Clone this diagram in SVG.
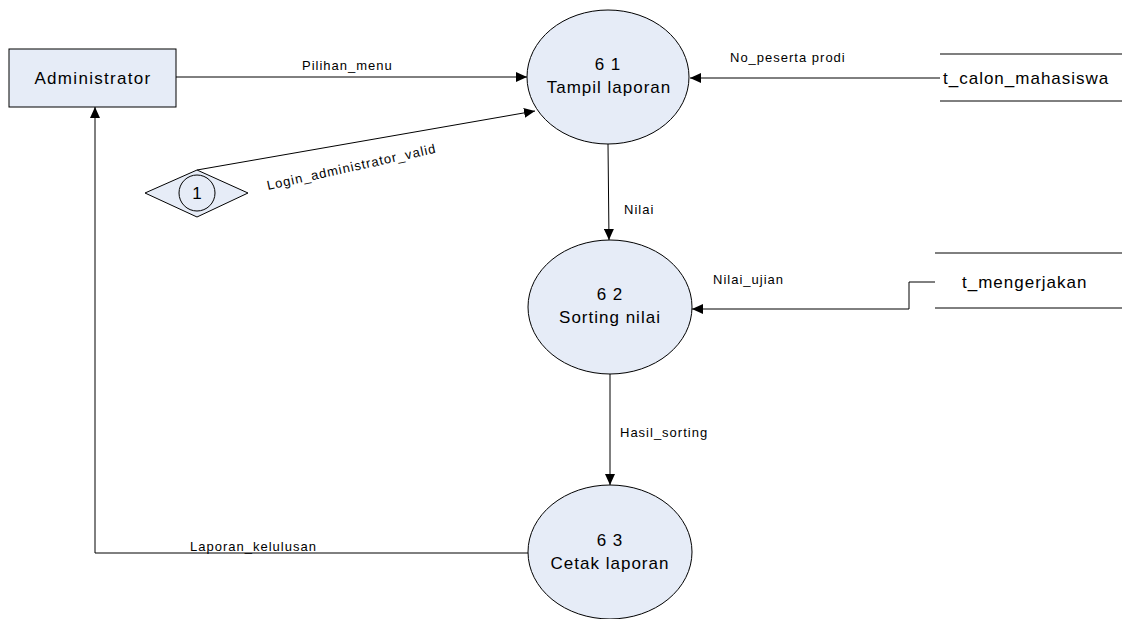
<svg xmlns="http://www.w3.org/2000/svg" width="1122" height="619" viewBox="0 0 1122 619">
<style>
.shape{fill:#e6ecf7;stroke:#000;stroke-width:1}
.big{font-family:"Liberation Sans",Arial,sans-serif;font-size:17px;letter-spacing:1px;fill:#000;text-anchor:middle}
.store{font-family:"Liberation Sans",Arial,sans-serif;font-size:17px;letter-spacing:1px;fill:#000;text-anchor:start}
.lbl{font-family:"Liberation Sans",Arial,sans-serif;font-size:13px;letter-spacing:1px;fill:#000}
.flow{fill:none;stroke:#000;stroke-width:1}
</style>
<defs>
<marker id="ah" markerWidth="12" markerHeight="10" refX="11" refY="5" orient="auto" markerUnits="userSpaceOnUse">
<path d="M0,0 L11,5 L0,10 Z" fill="#000"/>
</marker>
</defs>
<rect width="1122" height="619" fill="#fff"/>
<g id="connectors">
<line class="flow" x1="176" y1="77" x2="527" y2="77" marker-end="url(#ah)"/>
<line class="flow" x1="197" y1="170" x2="535" y2="111" marker-end="url(#ah)"/>
<line class="flow" x1="940" y1="78" x2="690" y2="78" marker-end="url(#ah)"/>
<line class="flow" x1="608" y1="144" x2="609" y2="240" marker-end="url(#ah)"/>
<polyline class="flow" points="935,282 909,282 909,309 692,309" marker-end="url(#ah)"/>
<line class="flow" x1="610" y1="374" x2="610" y2="485" marker-end="url(#ah)"/>
<polyline class="flow" points="529,553 95,553 95,107" marker-end="url(#ah)"/>
<text class="lbl" x="302" y="70">Pilihan_menu</text>
<text class="lbl" x="730" y="62">No_peserta prodi</text>
<text class="lbl" x="268" y="190" transform="rotate(-12.5 268 190)">Login_administrator_valid</text>
<text class="lbl" x="624" y="214">Nilai</text>
<text class="lbl" x="713" y="284">Nilai_ujian</text>
<text class="lbl" x="620" y="437">Hasil_sorting</text>
<text class="lbl" x="190" y="551">Laporan_kelulusan</text>
</g>
<g id="administrator">
<rect class="shape" x="9" y="49" width="167" height="58"/>
<text class="big" x="93" y="84" style="letter-spacing:1.3px">Administrator</text>
</g>
<g id="connector-1">
<polygon class="shape" points="145,193 197,170 248,193 197,217"/>
<circle class="shape" cx="197" cy="193" r="18"/>
<text class="big" x="197" y="199" style="letter-spacing:0">1</text>
</g>
<g id="p61">
<ellipse class="shape" cx="608" cy="77" rx="81" ry="67"/>
<text class="big" x="608" y="70">6 1</text>
<text class="big" x="609" y="93">Tampil laporan</text>
</g>
<g id="p62">
<ellipse class="shape" cx="610" cy="307" rx="82" ry="67"/>
<text class="big" x="610" y="300">6 2</text>
<text class="big" x="610" y="323">Sorting nilai</text>
</g>
<g id="p63">
<ellipse class="shape" cx="610" cy="552" rx="82" ry="67"/>
<text class="big" x="610" y="546">6 3</text>
<text class="big" x="610" y="569">Cetak laporan</text>
</g>
<g id="t_calon_mahasiswa">
<line x1="940" y1="54" x2="1122" y2="54" stroke="#7f7f7f" stroke-width="2"/>
<line x1="940" y1="101" x2="1122" y2="101" stroke="#000" stroke-width="1"/>
<text class="store" x="943" y="84">t_calon_mahasiswa</text>
</g>
<g id="t_mengerjakan">
<line x1="935" y1="253" x2="1122" y2="253" stroke="#000" stroke-width="1"/>
<line x1="935" y1="308" x2="1122" y2="308" stroke="#000" stroke-width="1"/>
<text class="store" x="962" y="288">t_mengerjakan</text>
</g>
</svg>
